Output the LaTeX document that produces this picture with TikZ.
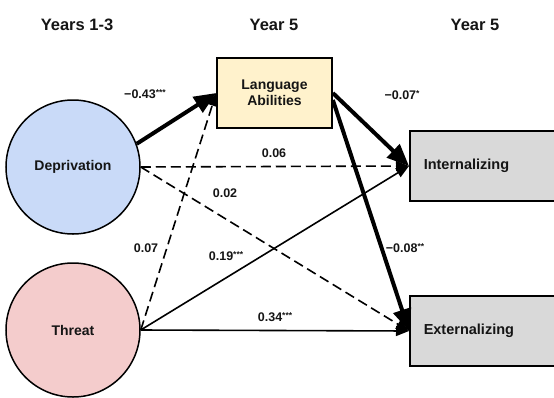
\documentclass[tikz,border=0pt]{standalone}
\usepackage{fontspec}
\setmainfont{Liberation Sans}
\usetikzlibrary{arrows.meta}
\definecolor{depblue}{HTML}{C9DAF8}
\definecolor{thrred}{HTML}{F4CCCC}
\definecolor{langyel}{HTML}{FFF2CC}
\definecolor{boxgray}{HTML}{D9D9D9}
\definecolor{ink}{HTML}{151515}
\newcommand{\sig}[1]{\raisebox{3pt}{\fontsize{8.5}{9}\selectfont #1}}
\begin{document}
\begin{tikzpicture}[x=1pt,y=-1pt,
  title/.style={font=\fontsize{16.5}{18}\selectfont\bfseries, text=ink},
  latent/.style={circle, draw=black, line width=1.5pt, minimum size=134pt, inner sep=0pt,
    font=\fontsize{14}{16}\selectfont\bfseries, text=ink},
  medbox/.style={rectangle, draw=black, line width=1.7pt, fill=langyel, minimum width=115pt,
    minimum height=70pt, align=center, font=\fontsize{14}{16}\selectfont\bfseries, text=ink},
  outbox/.style={rectangle, draw=black, line width=1.5pt, fill=boxgray, anchor=west,
    text width=122pt, inner xsep=14pt, minimum height=70pt, align=left,
    font=\fontsize{14.5}{16}\selectfont\bfseries, text=ink},
  lbl/.style={font=\fontsize{12.5}{14}\selectfont\bfseries, text=ink, inner sep=0pt},
  thickarr/.style={line width=4pt, -{Triangle[length=22pt,width=18pt]}},
  thinarr/.style={line width=1.6pt, -{Triangle[length=13pt,width=10pt]}},
  dasharr/.style={thinarr, dash pattern=on 10pt off 5pt}
]
\clip (0,0) rectangle (554,397);
\fill[white] (0,0) rectangle (554,397);

\node[title] (t1) at (77,25) {Years 1-3};
\node[title] (t2) at (274,25) {Year 5};
\node[title] (t3) at (475,25) {Year 5};

\node[latent, fill=depblue] (dep) at (73,167) {Deprivation};
\node[latent, fill=thrred] (thr) at (73,330) {Threat};
\node[medbox] (lang) at (274.5,93) {Language\\Abilities};
\node[outbox] (int) at (409,166) {Internalizing};
\node[outbox] (ext) at (409,331) {Externalizing};

\draw[dasharr] (dep.east) -- (int.west);
\draw[dasharr] (dep.east) -- (ext.west);
\draw[dasharr] (thr.east) -- (lang.west);
\draw[thinarr] (thr.east) -- (int.west);
\draw[thinarr] (thr.east) -- (ext.west);
\draw[thickarr] (dep.20) -- (lang.west);
\draw[thickarr] (lang.east) -- (int.west);
\draw[thickarr] ([yshift=-7pt]lang.east) -- (ext.west);

\node[lbl] (l1) at (145,94) {−0.43\sig{***}};
\node[lbl] (l2) at (402,95) {−0.07\sig{*}};
\node[lbl] (l3) at (274,153) {0.06};
\node[lbl] (l4) at (225,193) {0.02};
\node[lbl] (l5) at (146,248) {0.07};
\node[lbl] (l6) at (226,256) {0.19\sig{***}};
\node[lbl] (l7) at (405,248) {−0.08\sig{**}};
\node[lbl] (l8) at (275,317) {0.34\sig{***}};
\end{tikzpicture}
\end{document}
